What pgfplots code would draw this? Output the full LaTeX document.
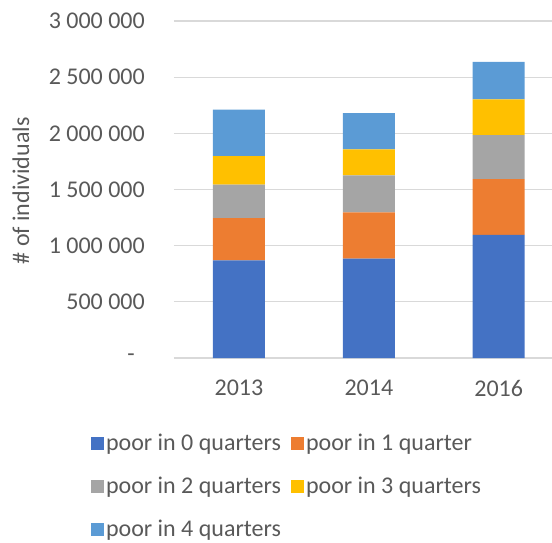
\documentclass[border=0pt]{standalone}
\usepackage{fontspec}
\setmainfont{Carlito}
\usepackage{pgfplots}
\pgfplotsset{compat=1.18}
\definecolor{txt}{HTML}{595959}
\definecolor{gridc}{HTML}{D9D9D9}
\definecolor{c0}{HTML}{4472C4}
\definecolor{c1}{HTML}{ED7D31}
\definecolor{c2}{HTML}{A5A5A5}
\definecolor{c3}{HTML}{FFC000}
\definecolor{c4}{HTML}{5B9BD5}
\begin{document}
\begin{tikzpicture}
\useasboundingbox (-174pt,-185pt) rectangle (378pt,358pt);
\begin{axis}[
  at={(0pt,0pt)}, anchor=south west,
  scale only axis, width=378pt, height=337pt,
  ybar stacked, bar width=52pt,
  xmin=-0.5, xmax=2.41, ymin=0, ymax=3000000,
  scaled y ticks=false,
  xtick={0,1,2}, xticklabels={2013,2014,2016},
  ytick={0,500000,1000000,1500000,2000000,2500000,3000000},
  yticklabels={-\hspace*{10pt},500 000,1 000 000,1 500 000,2 000 000,2 500 000,3 000 000},
  major tick length=0pt,
  ymajorgrids, grid style={gridc, line width=1.3pt},
  axis line style={draw=none},
  axis x line*=bottom, axis y line*=left,
  font=\fontsize{24}{28}\selectfont, text=txt,
  yticklabel style={anchor=east, inner sep=0pt, xshift=-29pt},
  xticklabel style={anchor=north, inner sep=0pt, yshift=-22pt},
  ylabel={\# of individuals},
  ylabel style={at={(axis description cs:-0.405,0.496)}, anchor=center},
  legend columns=2,
  legend style={draw=none, fill=none, at={(-0.228,-0.214)}, anchor=north west,
    font=\fontsize{24}{28}\selectfont, text=txt, row sep=21pt,
    /tikz/every even column/.append style={column sep=8pt},
    /tikz/every odd column/.append style={column sep=0pt}},
  legend image code/.code={\fill[#1] (0pt,-6.5pt) rectangle (13pt,6.5pt);},
  legend cell align=left,
]
\addplot[fill=c0, draw=none] coordinates {(0,869000) (1,884000) (2,1097000)};
\addlegendentry{poor in 0 quarters}
\addplot[fill=c1, draw=none] coordinates {(0,377000) (1,412000) (2,496000)};
\addlegendentry{poor in 1 quarter}
\addplot[fill=c2, draw=none] coordinates {(0,297000) (1,329000) (2,392000)};
\addlegendentry{poor in 2 quarters}
\addplot[fill=c3, draw=none] coordinates {(0,255000) (1,232000) (2,317000)};
\addlegendentry{poor in 3 quarters}
\addplot[fill=c4, draw=none] coordinates {(0,412000) (1,324000) (2,335000)};
\addlegendentry{poor in 4 quarters}
\end{axis}
\end{tikzpicture}
\end{document}
